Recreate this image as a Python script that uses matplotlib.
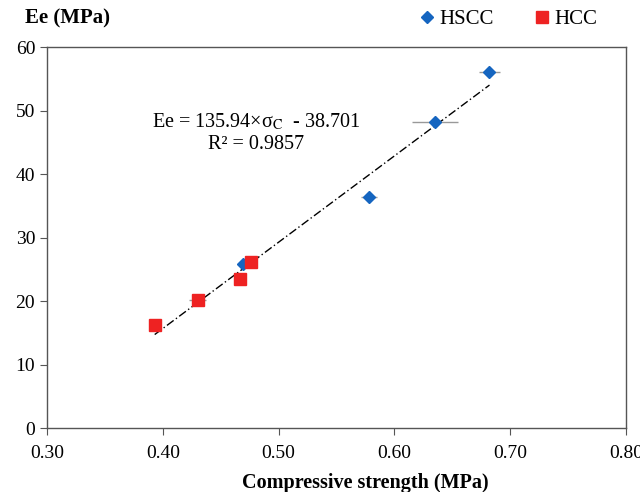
"""Elastic modulus vs compressive strength scatter with linear fit."""

import matplotlib.pyplot as plt
import numpy as np

plt.rcParams["font.family"] = ["Liberation Serif", "DejaVu Serif"]
plt.rcParams["mathtext.fontset"] = "stix"

# HSCC points (diamonds)
HSCC_X = [0.469, 0.578, 0.635, 0.682]
HSCC_Y = [25.9, 36.4, 48.2, 56.0]
HSCC_XERR = [0.004, 0.007, 0.020, 0.009]

# HCC points (squares)
HCC_X = [0.393, 0.430, 0.467, 0.476]
HCC_Y = [16.2, 20.1, 23.4, 26.1]
HCC_XERR = [0.003, 0.007, 0.003, 0.005]

SLOPE = 135.94
INTERCEPT = -38.701
FIT_RANGE = [0.393, 0.682]

X_TICKS = [0.30, 0.40, 0.50, 0.60, 0.70, 0.80]
Y_TICKS = [0, 10, 20, 30, 40, 50, 60]


def main() -> None:
    fig = plt.figure(figsize=(6.4, 4.92), dpi=100)
    ax = fig.add_axes([0.0734, 0.130, 0.905, 0.7744])

    fit_x = np.array(FIT_RANGE)
    ax.plot(fit_x, SLOPE * fit_x + INTERCEPT, color="black", linewidth=1.0,
            dashes=(6, 2, 1, 2), zorder=2)

    ax.errorbar(HSCC_X, HSCC_Y, xerr=HSCC_XERR, fmt="D", color="#1565C0",
                markersize=6.5, ecolor="#999999", elinewidth=1.0, capsize=0,
                zorder=3, label="HSCC")
    ax.errorbar(HCC_X, HCC_Y, xerr=HCC_XERR, fmt="s", color="#EE2222",
                markersize=8.5, ecolor="#999999", elinewidth=1.0, capsize=0,
                zorder=4, label="HCC")

    ax.text(0.4805, 48.2, r"Ee = 135.94×σ$_{\mathrm{C}}$  - 38.701", fontsize=14.5,
            ha="center", va="center")
    ax.text(0.4805, 44.6, "R² = 0.9857", fontsize=14.5, ha="center", va="center")

    ax.set_xlim(0.30, 0.80)
    ax.set_ylim(0, 60)
    ax.set_xticks(X_TICKS)
    ax.set_xticklabels([f"{t:.2f}" for t in X_TICKS])
    ax.set_yticks(Y_TICKS)
    ax.tick_params(direction="out", length=5, width=0.8, color="#555555",
                   labelsize=14)
    ax.tick_params(axis="x", pad=7)
    for spine in ax.spines.values():
        spine.set_color("#555555")
        spine.set_linewidth(1.0)

    fig.text(365 / 640, 0.018, "Compressive strength (MPa)", fontsize=14.5,
             fontweight="bold", ha="center", va="center")
    fig.text(0.039, 0.963, "Ee (MPa)", fontsize=15, fontweight="bold",
             ha="left", va="center")

    handles, labels = ax.get_legend_handles_labels()
    handles = [h[0] for h in handles]
    fig.legend(handles, labels, loc="center", bbox_to_anchor=(0.795, 0.961),
               ncol=2, frameon=False, fontsize=15, handlelength=0.6,
               handletextpad=0.3, columnspacing=2.0)

    fig.savefig("out.png", dpi=100)
    plt.close(fig)


if __name__ == "__main__":
    main()
